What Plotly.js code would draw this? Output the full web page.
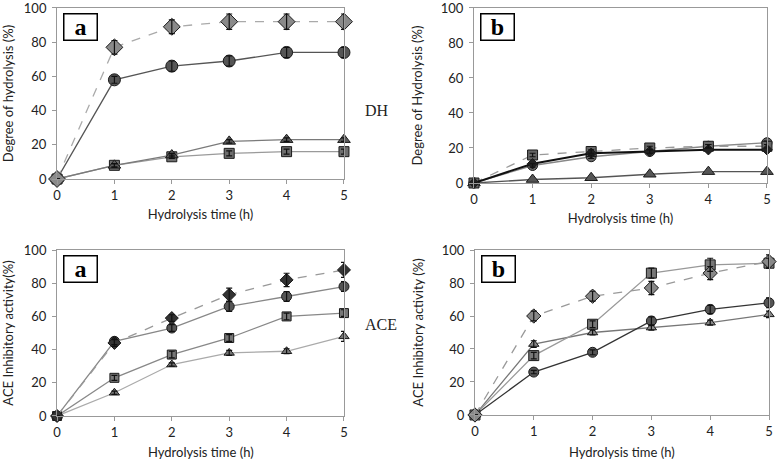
<!DOCTYPE html>
<html>
<head>
<meta charset="utf-8">
<script src="https://cdn.plot.ly/plotly-3.0.1.min.js"></script>
<style>body{margin:0;background:#fff}#chart{width:777px;height:459px}</style>
</head>
<body>
<div id="chart"></div>
<script>
// hydrolysis time points (h)
const hours = [0, 1, 2, 3, 4, 5];

// panel a, degree of hydrolysis
const dhA_diamond = [0, 77, 89, 92, 92, 92];
const dhA_diamondErr = [0, 4, 4, 4.5, 4.5, 4.5];
const dhA_circle = [0, 58, 66, 69, 74, 74];
const dhA_circleErr = [0, 2, 3, 3, 3, 3];
const dhA_triangle = [0, 8, 14, 22, 23, 23];
const dhA_triangleErr = [0, 1, 1, 1, 1, 1];
const dhA_square = [0, 8, 13, 15, 16, 16];
const dhA_squareErr = [0, 1, 1, 1.5, 1.5, 1.5];

// panel b, degree of hydrolysis
const dhB_square = [0, 16, 18, 20, 21, 21];
const dhB_circle = [0, 10, 15, 18, 21, 23];
const dhB_diamond = [0, 11, 17, 18, 19, 19];
const dhB_triangle = [0, 2, 3, 5, 6.5, 6.5];
const dhB_err = [0, 1, 1, 1, 1, 1];

// panel a, ACE inhibitory activity
const aceA_diamond = [0, 44, 59, 73, 82, 88];
const aceA_diamondErr = [0, 2, 2, 4, 4, 4.5];
const aceA_circle = [0, 45, 53, 66, 72, 78];
const aceA_circleErr = [0, 2, 2, 3, 3, 3];
const aceA_square = [0, 23, 37, 47, 60, 62];
const aceA_squareErr = [0, 1.5, 2, 2, 2, 2];
const aceA_triangle = [0, 14, 31, 38, 39, 48];
const aceA_triangleErr = [0, 1, 1, 1.5, 1.5, 3];

// panel b, ACE inhibitory activity
const aceB_diamond = [0, 60, 72, 77, 86, 93];
const aceB_diamondErr = [0, 3, 3, 4, 4, 4];
const aceB_square = [0, 36, 55, 86, 91, 92];
const aceB_squareErr = [0, 2, 2, 3, 4, 3];
const aceB_circle = [0, 26, 38, 57, 64, 68];
const aceB_circleErr = [0, 1, 1.5, 2.5, 2.5, 3];
const aceB_triangle = [0, 43, 50, 53, 56, 61];
const aceB_triangleErr = [0, 2, 1.5, 1.5, 1.5, 2];

const tickLabels = ['0', '1', '2', '3', '4', '5'];
const xTitle = 'Hydrolysis time (h)';

const lineTraces = [];
const errTraces = [];

// line + markers, and a separate invisible trace so the error bars sit on top of the markers
function series(xa, ya, y, err, symbol, fill, lineColor, dash, size, lineWidth) {
  lineTraces.push({
    x: hours, y: y, xaxis: xa, yaxis: ya, type: 'scatter', mode: 'lines+markers',
    cliponaxis: false, showlegend: false, hoverinfo: 'skip',
    line: {color: lineColor, width: lineWidth || 1.3, dash: dash || 'solid'},
    marker: {symbol: symbol, size: size, color: fill, line: {color: '#1a1a1a', width: 1}}
  });
  if (err) errTraces.push({
    x: hours, y: y, xaxis: xa, yaxis: ya, type: 'scatter', mode: 'markers',
    cliponaxis: false, showlegend: false, hoverinfo: 'skip',
    marker: {size: 1, color: 'rgba(0,0,0,0)'},
    error_y: {type: 'data', array: err, color: '#111', thickness: 1.2, width: 3}
  });
}

// DH a
series('x', 'y', dhA_square, dhA_squareErr, 'square', '#6e6e6e', '#9a9a9a', null, 10);
series('x', 'y', dhA_triangle, dhA_triangleErr, 'triangle-up', '#5a5a5a', '#7a7a7a', null, 11);
series('x', 'y', dhA_circle, dhA_circleErr, 'circle', '#555', '#555', null, 12);
series('x', 'y', dhA_diamond, dhA_diamondErr, 'diamond', '#8a8a8a', '#aaa', 'dash', 13);
// DH b
series('x2', 'y2', dhB_triangle, null, 'triangle-up', '#555', '#555', null, 11);
series('x2', 'y2', dhB_circle, dhB_err, 'circle', '#666', '#888', null, 10);
series('x2', 'y2', dhB_square, dhB_err, 'square', '#666', '#999', 'dash', 10);
series('x2', 'y2', dhB_diamond, null, 'diamond', '#222', '#111', null, 8, 2);
// ACE a
series('x3', 'y3', aceA_triangle, aceA_triangleErr, 'triangle-up', '#777', '#aaa', null, 9);
series('x3', 'y3', aceA_square, aceA_squareErr, 'square', '#777', '#888', null, 9);
series('x3', 'y3', aceA_circle, aceA_circleErr, 'circle', '#555', '#888', null, 10);
series('x3', 'y3', aceA_diamond, aceA_diamondErr, 'diamond', '#333', '#999', 'dash', 10);
// ACE b
series('x4', 'y4', aceB_triangle, aceB_triangleErr, 'triangle-up', '#888', '#777', null, 9);
series('x4', 'y4', aceB_circle, aceB_circleErr, 'circle', '#555', '#333', null, 10);
series('x4', 'y4', aceB_square, aceB_squareErr, 'square', '#777', '#999', null, 10);
series('x4', 'y4', aceB_diamond, aceB_diamondErr, 'diamond', '#888', '#999', 'dash', 11);

const tickFont = {family: 'Lato, "Open Sans", sans-serif', size: 13, color: '#222'};
const titleFont = {family: 'Lato, "Open Sans", sans-serif', size: 13, color: '#222'};

function xAxis(domain, anchor, title) {
  return {
    domain: domain, anchor: anchor, range: [0, 5], tickvals: hours, ticktext: tickLabels,
    showgrid: false, zeroline: false, showline: true, mirror: true, linecolor: '#999', linewidth: 1,
    ticks: 'outside', ticklen: 4, tickcolor: '#999', tickfont: tickFont,
    title: {text: title, font: titleFont, standoff: 8}
  };
}
function yAxis(domain, anchor, text) {
  return {
    domain: domain, anchor: anchor, range: [0, 100], dtick: 20,
    showgrid: false, zeroline: false, showline: true, mirror: true, linecolor: '#999', linewidth: 1,
    ticks: 'outside', ticklen: 4, tickcolor: '#999', tickfont: tickFont, ticklabelstandoff: 3,
    ticklabeloverflow: 'allow',
    title: {text: text, font: titleFont, standoff: 15}
  };
}

function panelLabel(letter, xa, ya) {
  return {
    text: '<b>' + letter + '</b>', xref: xa + ' domain', yref: ya + ' domain', x: 0.02, y: 0.97,
    xanchor: 'left', yanchor: 'top', showarrow: false,
    font: {family: '"Liberation Serif", "DejaVu Serif", serif', size: 24, color: '#000'},
    bgcolor: '#fff', bordercolor: '#000', borderwidth: 1.5, borderpad: 1, width: 30, height: 23
  };
}

// bottom row x titles sit at the very edge of the figure, past where axis titles are allowed
function bottomTitle(xa) {
  return {
    text: xTitle, xref: xa + ' domain', yref: 'paper', x: 0.5, y: 0.016,
    xanchor: 'center', yanchor: 'middle', showarrow: false, font: titleFont
  };
}

const layout = {
  width: 777, height: 459, margin: {l: 0, r: 0, t: 0, b: 0},
  paper_bgcolor: '#fff', plot_bgcolor: '#fff',
  xaxis: xAxis([0.0734, 0.4427], 'y', xTitle),
  yaxis: yAxis([0.6100, 0.9826], 'x', 'Degree of hydrolysis (%)'),
  xaxis2: xAxis([0.6100, 0.9871], 'y2', xTitle),
  yaxis2: yAxis([0.6013, 0.9826], 'x2', 'Degree of Hydrolysis (%)'),
  xaxis3: xAxis([0.0734, 0.4427], 'y3', ''),
  yaxis3: yAxis([0.0937, 0.4553], 'x3', 'ACE Inhibitory activity(%)'),
  xaxis4: xAxis([0.6113, 0.9897], 'y4', ''),
  yaxis4: yAxis([0.0959, 0.4553], 'x4', 'ACE Inhibitory activity (%)'),
  annotations: [
    panelLabel('a', 'x', 'y'), panelLabel('b', 'x2', 'y2'),
    panelLabel('a', 'x3', 'y3'), panelLabel('b', 'x4', 'y4'),
    bottomTitle('x3'), bottomTitle('x4'),
    {text: 'DH', xref: 'paper', yref: 'paper', x: 0.467, y: 0.76, showarrow: false,
     xanchor: 'left', yanchor: 'middle',
     font: {family: '"Liberation Serif", serif', size: 16, color: '#222'}},
    {text: 'ACE', xref: 'paper', yref: 'paper', x: 0.467, y: 0.292, showarrow: false,
     xanchor: 'left', yanchor: 'middle',
     font: {family: '"Liberation Serif", serif', size: 16, color: '#222'}}
  ]
};

Plotly.newPlot('chart', lineTraces.concat(errTraces), layout, {staticPlot: true});
</script>
</body>
</html>
